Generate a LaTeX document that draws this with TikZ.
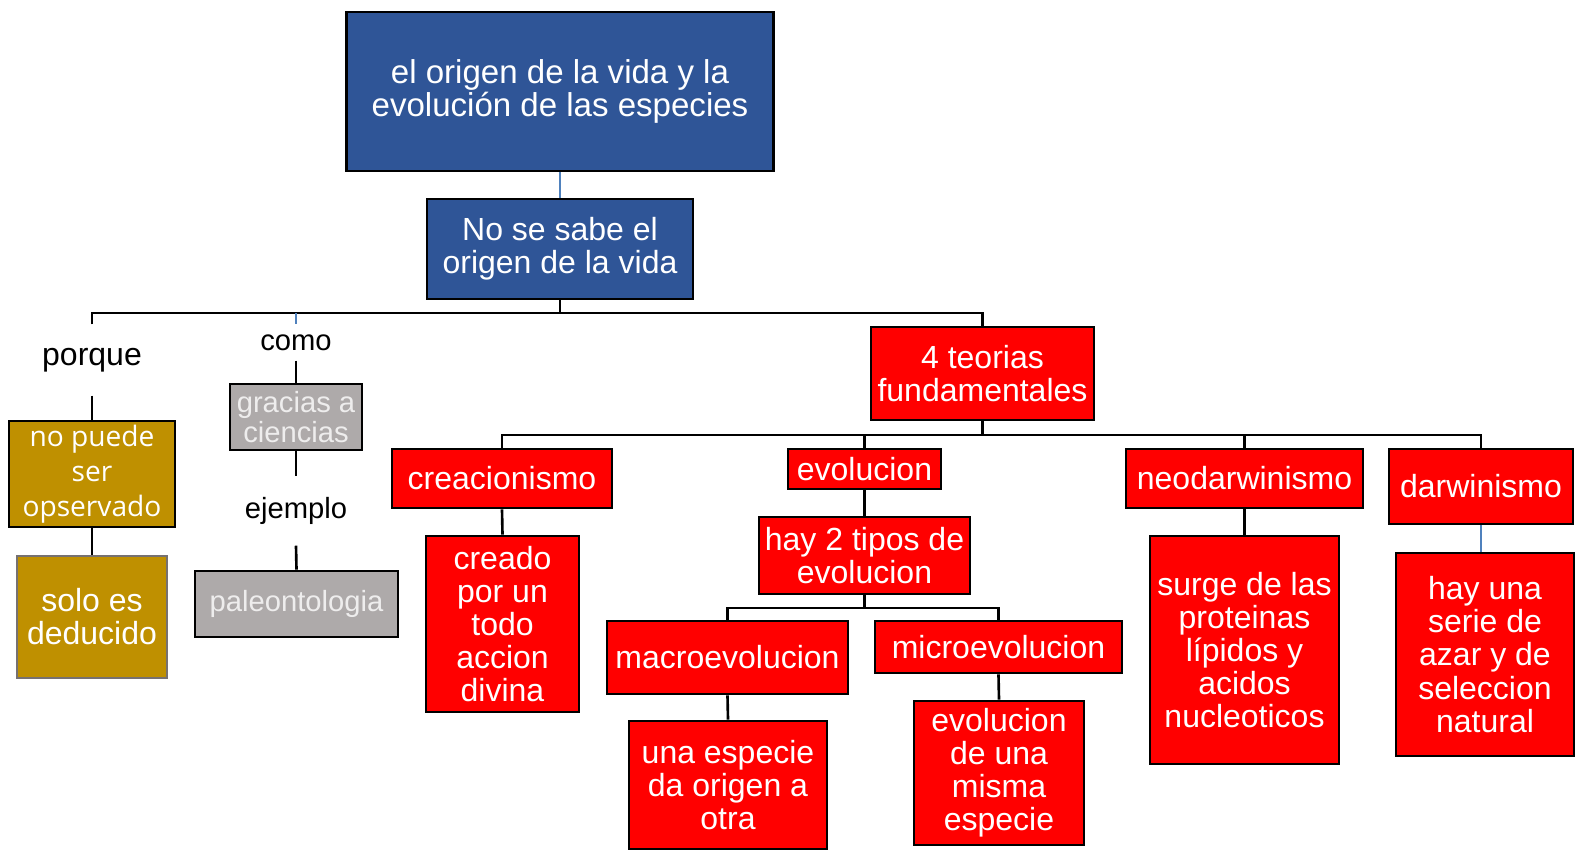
\documentclass[tikz,border=0pt]{standalone}
\usepackage{fontspec}
\setmainfont{Liberation Sans}
\newfontfamily\humsans{Open Sans}
\usepackage{xcolor}
\definecolor{cblue}  {HTML}{2F5597}
\definecolor{cred}   {HTML}{FF0000}
\definecolor{cgold}  {HTML}{BF9000}
\definecolor{cgray}  {HTML}{AEAAAA}
\definecolor{cgtext} {HTML}{EEEDED}
\definecolor{cdgray} {HTML}{767171}
\definecolor{cline}  {HTML}{4F81BD}

\begin{document}
\begin{tikzpicture}[
  x=0.01cm, y=-0.01cm,
  con/.style  = {line width=0.75pt, black},
  bcon/.style = {line width=0.75pt, cline},
  box/.style  = {rectangle, draw=black, line width=0.8pt, inner sep=0pt,
                 align=center, text=white,
                 font=\fontsize{9.1}{9.4}\selectfont},
  bbox/.style = {box, fill=cblue},
  rbox/.style = {box, fill=cred},
  gbox/.style = {box, fill=cgold},
  sbox/.style = {box, fill=cgray, text=cgtext,
                 font=\fontsize{8.3}{8.3}\selectfont},
  lbl/.style  = {inner sep=0pt, font=\fontsize{8.3}{8.3}\selectfont}
]
\useasboundingbox (0,0) rectangle (1575,851);

%% ── Nodes ─────────────────────────────────────────────────────────────────
\node[bbox, minimum width=4.26cm, minimum height=1.59cm,
      font=\fontsize{9.4}{9.4}\selectfont] (origen) at (560,91.5)
  {el origen de la vida y la\\evolución de las especies};
\node[bbox, minimum width=2.66cm, minimum height=1.00cm] (nosabe) at (560,249)
  {No se sabe el\\origen de la vida};

% left branch
\node[lbl, minimum height=0.70cm, font=\fontsize{9.1}{9.4}\selectfont] (porque) at (92,360) {porque};
\node[gbox, minimum width=1.66cm, minimum height=1.06cm,
      font=\humsans\fontsize{8.0}{10.0}\selectfont] (nopuede) at (92,474)
  {no puede\\ser\\opservado};
\node[gbox, draw=cdgray, minimum width=1.50cm, minimum height=1.22cm] (solo) at (92,617)
  {solo es\\deducido};

% middle-left branch
\node[lbl, minimum height=0.35cm] (como) at (296,342.5) {como};
\node[sbox, minimum width=1.32cm, minimum height=0.66cm] (gracias) at (296,417)
  {gracias a\\ciencias};
\node[lbl, minimum height=0.68cm] (ejemplo) at (296,511) {ejemplo};
\node[sbox, minimum width=2.03cm, minimum height=0.66cm] (paleo) at (296.5,604)
  {paleontologia};

% theories
\node[rbox, minimum width=2.23cm, minimum height=0.93cm] (teorias) at (982.5,373.5)
  {4 teorias\\fundamentales};
\node[rbox, minimum width=2.20cm, minimum height=0.59cm] (creac) at (502,478.5) {creacionismo};
\node[rbox, minimum width=1.53cm, minimum height=1.76cm] (creado) at (502.5,624)
  {creado\\por un\\todo\\accion\\divina};
\node[rbox, minimum width=1.53cm, minimum height=0.40cm] (evol) at (864.5,469) {evolucion};
\node[rbox, minimum width=2.11cm, minimum height=0.77cm] (hay2) at (864.5,555.5)
  {hay 2 tipos de\\evolucion};
\node[rbox, minimum width=2.41cm, minimum height=0.73cm] (macro) at (727.5,657.5) {macroevolucion};
\node[rbox, minimum width=2.47cm, minimum height=0.52cm] (micro) at (998.5,647) {microevolucion};
\node[rbox, minimum width=1.98cm, minimum height=1.28cm] (unaesp) at (728,785)
  {una especie\\da origen a\\otra};
\node[rbox, minimum width=1.70cm, minimum height=1.44cm] (misma) at (999,773)
  {evolucion\\de una\\misma\\especie};
\node[rbox, minimum width=2.37cm, minimum height=0.59cm] (neo) at (1244.5,478.5) {neodarwinismo};
\node[rbox, minimum width=1.89cm, minimum height=2.28cm] (surge) at (1244.5,650)
  {surge de las\\proteinas\\lípidos y\\acidos\\nucleoticos};
\node[rbox, minimum width=1.84cm, minimum height=0.75cm] (darw) at (1481,486.5) {darwinismo};
\node[rbox, minimum width=1.78cm, minimum height=2.03cm] (hayuna) at (1485,654.5)
  {hay una\\serie de\\azar y de\\seleccion\\natural};

%% ── Connectors ────────────────────────────────────────────────────────────
\coordinate (j1) at (560,313);
\coordinate (j2) at (982.5,435);
\coordinate (j3) at (864.5,608);

% title → first statement
\draw[bcon] (origen.south) -- (nosabe.north);

% first statement → three branches
\draw[con] (nosabe.south) -- (j1);
\draw[con] (porque.north) -- (porque.north |- j1) -- (teorias.north |- j1) -- (teorias.north);
\draw[bcon] (como.north |- j1) -- (como.north);

% porque chain
\draw[con] (porque.south) -- (nopuede.north);
\draw[con] (nopuede.south) -- (solo.north);

% como chain
\draw[con] (como.south) -- (gracias.north);
\draw[con] (gracias.south) -- (ejemplo.north);
\draw[con] (ejemplo.south) -- (paleo.north);

% theories bus
\draw[con] (teorias.south) -- (j2);
\draw[con] (creac.north) -- (creac.north |- j2) -- (darw.north |- j2) -- (darw.north);
\draw[con] (evol.north |- j2) -- (evol.north);
\draw[con] (neo.north |- j2) -- (neo.north);

% theory details
\draw[con] (creac.south) -- (creado.north);
\draw[con] (evol.south) -- (hay2.north);
\draw[con] (neo.south) -- (surge.north);
\draw[bcon] (darw.south) -- (darw.south |- hayuna.north);

% two kinds of evolution
\draw[con] (hay2.south) -- (j3);
\draw[con] (macro.north) -- (macro.north |- j3) -- (micro.north |- j3) -- (micro.north);
\draw[con] (macro.south) -- (unaesp.north);
\draw[con] (micro.south) -- (misma.north);

\end{tikzpicture}
\end{document}
